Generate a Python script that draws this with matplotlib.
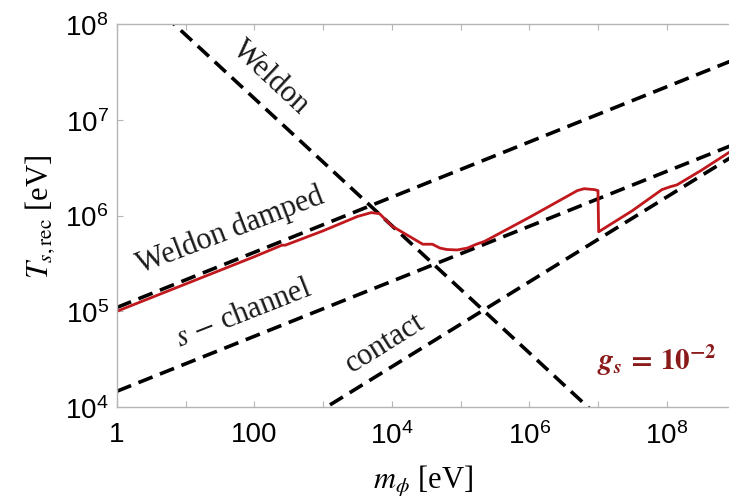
import numpy as np
import matplotlib
matplotlib.use("Agg")
import matplotlib.pyplot as plt
from matplotlib.ticker import FixedLocator, NullLocator, FuncFormatter

plt.rcParams['font.family'] = ['Liberation Serif', 'DejaVu Serif']
plt.rcParams['mathtext.fontset'] = 'stix'

# Power-law reference temperatures T = A * m^p  (m in eV, T in eV)
weldon_A, weldon_p = 10**8.55, -0.664
damped_A, damped_p = 10**5.04, 0.288
schan_A, schan_p = 10**4.165, 0.287
contact_A, contact_p = 10**(4.0 - 0.443 * 3.05), 0.443

# Recombination temperature for g_s = 1e-2 (log10 m, log10 T)
red_logm = [0.0, 1.0, 2.0, 2.40, 2.45, 3.0, 3.5, 3.70, 3.82, 4.0, 4.45, 4.59,
            4.70, 4.80, 4.95, 5.10, 5.23, 5.35, 6.0, 6.5, 6.70, 6.80, 6.95,
            7.00, 7.01, 7.5, 7.93, 8.05, 8.15, 8.5, 8.91]
red_logT = [5.00, 5.285, 5.57, 5.69, 5.69, 5.84, 5.99, 6.03, 6.02, 5.89, 5.70,
            5.70, 5.66, 5.645, 5.64, 5.66, 5.70, 5.73, 5.98, 6.18, 6.26, 6.28,
            6.27, 6.26, 5.83, 6.05, 6.27, 6.30, 6.32, 6.47, 6.66]

x_ticks = [10**k for k in range(0, 9)]
x_labels = {0: "1", 2: "100", 4: r"$\mathregular{10^{4}}$", 6: r"$\mathregular{10^{6}}$",
            8: r"$\mathregular{10^{8}}$"}
y_ticks = [10**k for k in range(4, 9)]

xmin, xmax = 1.0, 10**8.907
ymin, ymax = 1e4, 1e8

fig = plt.figure(figsize=(7.29, 5.02), dpi=100)
ax = fig.add_axes([117 / 729, 1 - 408 / 502, 1 - 117 / 729, (408 - 25) / 502])
ax.set_xscale('log')
ax.set_yscale('log')
ax.set_xlim(xmin, xmax)
ax.set_ylim(ymin, ymax)

m = np.logspace(0, 9, 400)
dash = dict(color='black', lw=2.6, ls=(0, (4.2, 2.2)))
ax.plot(m, weldon_A * m**weldon_p, **dash)
ax.plot(m, damped_A * m**damped_p, **dash)
ax.plot(m, schan_A * m**schan_p, **dash)
ax.plot(m, contact_A * m**contact_p, **dash)

ax.plot(10**np.array(red_logm), 10**np.array(red_logT), color='#c0181c', lw=2.0,
        solid_joinstyle='round')

# Curve labels
txt = dict(fontsize=22, color='#1a1a1a', ha='center', va='center',
           rotation_mode='anchor')
ax.text(10**2.24, 10**7.45, "Weldon", rotation=-43, **txt)
ax.text(10**1.65, 10**5.85, "Weldon damped", rotation=21, **txt)
ax.text(10**1.85, 10**4.98, r"$s$ $-$ channel", rotation=21.5, **txt)
ax.text(10**3.9, 10**4.67, "contact", rotation=32, **txt)
ax.text(10**7.85, 10**4.5, r"$\mathbfit{g}_{\mathbfit{s}}\,\mathbf{=\,10^{-2}}$",
        fontsize=21, color='#8b1a1a', ha='center', va='center')

# Axes styling
for s in ['left', 'bottom', 'top']:
    ax.spines[s].set_color('#b5b5b5')
    ax.spines[s].set_linewidth(1.0)
ax.spines['right'].set_visible(False)

ax.xaxis.set_major_locator(FixedLocator(x_ticks))
ax.xaxis.set_minor_locator(NullLocator())
ax.yaxis.set_major_locator(FixedLocator(y_ticks))
ax.yaxis.set_minor_locator(NullLocator())
ax.xaxis.set_major_formatter(FuncFormatter(
    lambda v, p: x_labels.get(int(round(np.log10(v))), "")))
ax.yaxis.set_major_formatter(FuncFormatter(
    lambda v, p: r"$\mathregular{10^{%d}}$" % int(round(np.log10(v)))))
ax.tick_params(axis='both', which='major', direction='in', length=4, width=0.8,
               color='#b5b5b5', top=True, right=False, labelsize=20, pad=6)
ax.tick_params(axis='x', pad=10)
for lab in ax.get_xticklabels() + ax.get_yticklabels():
    lab.set_family(['Liberation Sans', 'DejaVu Sans'])

ax.set_xlabel(r"$m_{\phi}$ [eV]", fontsize=22, labelpad=10)
ax.set_ylabel(r"$T_{s,\mathrm{rec}}$ [eV]", fontsize=22, labelpad=6)

fig.savefig("out.png", dpi=100)
